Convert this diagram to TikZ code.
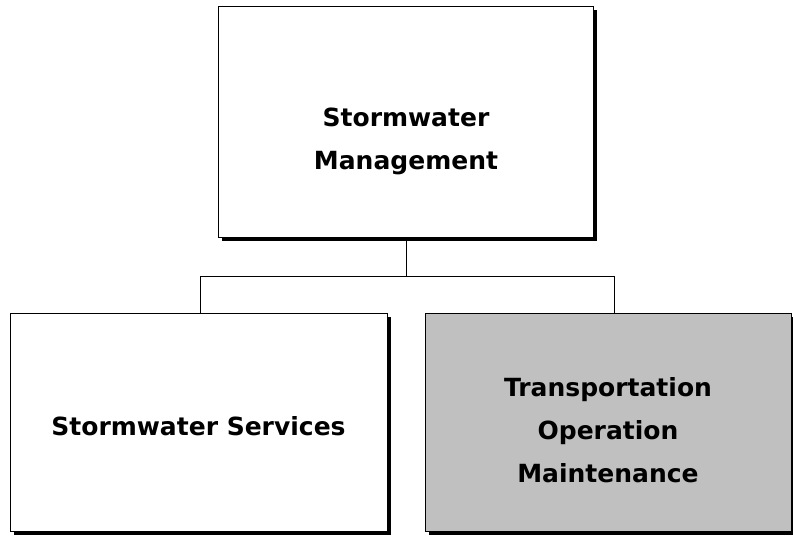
\documentclass[tikz,border=0pt]{standalone}
\usepackage{fontspec}
\setmainfont{DejaVu Sans}
\usetikzlibrary{shadows}
\definecolor{orgGray}{RGB}{192,192,192}

\begin{document}
\begin{tikzpicture}[x=1pt, y=-1pt,
    orgbox/.style={draw=black, line width=0.8pt, fill=white, inner sep=0pt,
      drop shadow={shadow xshift=3.5pt, shadow yshift=-3.5pt, fill=black, opacity=1}},
    orgtext/.style={align=center, inner sep=0pt, font={\fontsize{25}{43}\selectfont\bfseries}},
    link/.style={draw=black, line width=0.8pt}]
        \useasboundingbox (0,0) rectangle (793,538);
        % boxes
        \node[orgbox, minimum width=375pt, minimum height=231pt] (mgmt) at (406,122) {};
        \node[orgbox, minimum width=377pt, minimum height=218pt] (serv) at (198.5,422) {};
        \node[orgbox, fill=orgGray, minimum width=366pt, minimum height=218pt] (trans) at (608,422) {};
        % labels
        \node[orgtext] (mgmtText) at ([yshift=-19pt]mgmt.center) {Stormwater\\Management};
        \node[orgtext] (servText) at ([yshift=-4pt]serv.center) {Stormwater Services};
        \node[orgtext] (transText) at ([yshift=-8pt]trans.center) {Transportation\\Operation\\Maintenance};
        % connectors
        \coordinate (busL) at (200,276);
        \coordinate (busR) at (614,276);
        \draw[link] (mgmt.south) -- (mgmt.south |- busL);
        \draw[link] (busL) -- (busR);
        \draw[link] (busL) -- (busL |- serv.north);
        \draw[link] (busR) -- (busR |- trans.north);
      \end{tikzpicture}
\end{document}
